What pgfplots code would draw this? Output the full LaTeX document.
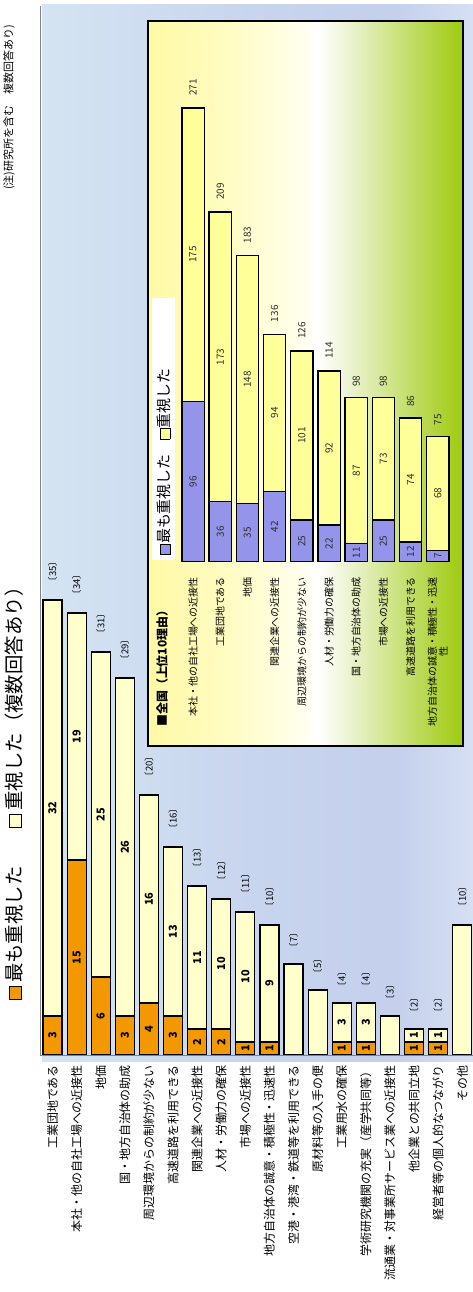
\documentclass[border=0pt]{standalone}
\usepackage{graphicx}
\usepackage{fontspec}
\setmainfont{Noto Sans CJK JP}
\usepackage{pgfplots}
\pgfplotsset{compat=1.18}
\usepackage{pgfplotstable}

\definecolor{orng}{RGB}{243,152,0}
\definecolor{pyel}{RGB}{255,255,204}
\definecolor{purp}{RGB}{148,148,234}
\definecolor{iyel}{RGB}{255,255,153}
\definecolor{axgray}{RGB}{130,130,130}
\definecolor{numgray}{RGB}{45,45,45}
\definecolor{pA}{RGB}{212,228,242}
\definecolor{pB}{RGB}{200,213,238}
\definecolor{pC}{RGB}{196,208,236}
\definecolor{pD}{RGB}{214,223,244}
\definecolor{iA}{RGB}{255,249,165}
\definecolor{iB}{RGB}{255,252,195}
\definecolor{iC}{RGB}{255,255,235}
\definecolor{iE}{RGB}{238,245,215}
\definecolor{iF}{RGB}{208,229,138}
\definecolor{iG}{RGB}{158,202,14}

\pgfdeclarehorizontalshading{panelshade}{100bp}{color(0bp)=(pA); color(25bp)=(pA); color(49bp)=(pB); color(66bp)=(pC); color(75bp)=(pD); color(100bp)=(pD)}
\pgfdeclarehorizontalshading{insetshade}{100bp}{color(0bp)=(iA); color(25bp)=(iA); color(38bp)=(iB); color(49bp)=(iC); color(52bp)=(white); color(56.3bp)=(iE); color(63.4bp)=(iF); color(75bp)=(iG); color(100bp)=(iG)}

\newcommand{\sq}[1]{{\setlength\fboxsep{0pt}\setlength\fboxrule{0.8pt}\fcolorbox{black}{#1}{\rule{0pt}{0.62em}\rule{0.62em}{0pt}}}}

\pgfplotstableread{
x a b
0 3 32
1 15 19
2 6 25
3 3 26
4 4 16
5 3 13
6 2 11
7 2 10
8 1 10
9 1 9
10 0 7
11 0 5
12 1 3
13 1 3
14 0 3
15 1 1
16 1 1
17 0 10
}\maindata

\pgfplotstableread{
x y l
0 1.5 3
1 7.5 15
2 3 6
3 1.5 3
4 2 4
5 1.5 3
6 1 2
7 1 2
8 0.5 1
9 0.5 1
12 0.5 1
13 0.5 1
15 0.5 1
16 0.5 1
}\mainA

\pgfplotstableread{
x y l
0 19 32
1 24.5 19
2 18.5 25
3 16 26
4 12 16
5 9.5 13
6 7.5 11
7 7 10
8 6 10
9 5.5 9
12 2.5 3
13 2.5 3
15 1.5 1
16 1.5 1
}\mainB

\pgfplotstableread{
x y l
0 37.2 〔35〕
1 36.2 〔34〕
2 33.2 〔31〕
3 31.2 〔29〕
4 22.2 〔20〕
5 18.2 〔16〕
6 15.2 〔13〕
7 14.2 〔12〕
8 13.2 〔11〕
9 12.2 〔10〕
10 8.85 〔7〕
11 6.85 〔5〕
12 5.85 〔4〕
13 5.85 〔4〕
14 4.85 〔3〕
15 3.85 〔2〕
16 3.85 〔2〕
17 12.2 〔10〕
}\mainT

\pgfplotstableread{
x a b
0 96 175
1 36 173
2 35 148
3 42 94
4 25 101
5 22 92
6 11 87
7 25 73
8 12 74
9 7 68
}\insdata

\pgfplotstableread{
x y l
0 48 96
1 18 36
2 17.5 35
3 21 42
4 12.5 25
5 11 22
6 5.5 11
7 12.5 25
8 6 12
9 3.5 7
}\insA

\pgfplotstableread{
x y l
0 183.5 175
1 122.5 173
2 109 148
3 89 94
4 75.5 101
5 68 92
6 54.5 87
7 61.5 73
8 49 74
9 41 68
}\insB

\pgfplotstableread{
x y l
0 283.2 271
1 221.2 209
2 195.2 183
3 148.2 136
4 138.2 126
5 126.2 114
6 108 98
7 108 98
8 96 86
9 85 75
}\insT

\begin{document}
\begin{tikzpicture}[x=1bp,y=1bp]
\path[use as bounding box, fill=white] (0,0) rectangle (473,1292);
% main panel
\shade[shading=panelshade] (42,230) rectangle (473,1287);
% inset panel
\shade[shading=insetshade] (148,546) rectangle (463,1271);
\draw[black, line width=1.3bp] (148,546) rectangle (463,1271);

% note and legend of main chart
\node[rotate=90, anchor=west, inner sep=0pt, font=\fontsize{11}{11}\selectfont] at (9,1102) {(注)研究所を含む　複数回答あり)};
\node[rotate=90, anchor=west, inner sep=0pt, font=\fontsize{19.5}{19.5}\selectfont] at (14,292) {\sq{orng}\,最も重視した　　\sq{pyel}\,重視した（複数回答あり）};

% main bars
\begin{axis}[
  at={(40.45bp,237bp)}, anchor=south west, scale only axis,
  width=432.6bp, height=1049bp,
  xmin=-0.5, xmax=17.45, ymin=0, ymax=80.7,
  axis x line*=bottom, axis y line*=left,
  axis line style={draw=axgray, line width=0.8bp},
  ytick=\empty, xtick={0,...,17}, xtick style={draw=none},
  xticklabels={工業団地である,本社・他の自社工場への近接性,地価,国・地方自治体の助成,周辺環境からの制約が少ない,高速道路を利用できる,関連企業への近接性,人材・労働力の確保,市場への近接性,地方自治体の誠意・積極性・迅速性,空港・港湾・鉄道等を利用できる,原材料等の入手の便,工業用水の確保,学術研究機関の充実（産学共同等）,流通業・対事業所サービス業への近接性,他企業との共同立地,経営者等の個人的なつながり,その他},
  xticklabel style={rotate=90, anchor=east, inner sep=0pt, font=\fontsize{12}{12}\selectfont},
  xticklabel shift=10bp,
  ybar stacked, bar width=19bp,
]
\addplot[fill=orng, draw=black, line width=1.2bp] table[x=x,y=a]{\maindata};
\addplot[fill=pyel, draw=black, line width=1.2bp] table[x=x,y=b]{\maindata};
\end{axis}

% main labels
\begin{axis}[
  at={(40.45bp,237bp)}, anchor=south west, scale only axis,
  width=432.6bp, height=1049bp,
  xmin=-0.5, xmax=17.45, ymin=0, ymax=80.7, hide axis,
  nodes near coords, point meta=explicit symbolic,
  nodes near coords align=center,
  every node near coord/.append style={rotate=90, inner sep=0pt, anchor=center},
]
\addplot[draw=none, mark=none, every node near coord/.append style={font=\bfseries\fontsize{11}{11}\selectfont}] table[x=x,y=y,meta=l]{\mainA};
\addplot[draw=none, mark=none, every node near coord/.append style={font=\bfseries\fontsize{11}{11}\selectfont}] table[x=x,y=y,meta=l]{\mainB};
\addplot[draw=none, mark=none, every node near coord/.append style={font=\fontsize{9.5}{10}\selectfont}] table[x=x,y=y,meta=l]{\mainT};
\end{axis}

% inset bars
\begin{axis}[
  at={(179.4bp,730bp)}, anchor=south west, scale only axis,
  width=272bp, height=502.5bp,
  xmin=-0.5, xmax=9.5, ymin=0, ymax=300,
  axis lines*=left, axis line style={draw=none},
  ytick=\empty, xtick={0,...,9}, xtick style={draw=none},
  xticklabels={本社・他の自社工場への近接性,工業団地である,地価,関連企業への近接性,周辺環境からの制約が少ない,人材・労働力の確保,国・地方自治体の助成,市場への近接性,高速道路を利用できる,{地方自治体の誠意・積極性・迅速\\性}},
  xticklabel style={rotate=90, anchor=east, align=center, inner sep=0pt, font=\fontsize{10}{11}\selectfont},
  xticklabel shift=15bp,
  ybar stacked, bar width=22.3bp,
]
\addplot[fill=purp, draw=black, line width=1.3bp] table[x=x,y=a]{\insdata};
\addplot[fill=iyel, draw=black, line width=1.3bp] table[x=x,y=b]{\insdata};
\end{axis}

% inset labels
\begin{axis}[
  at={(179.4bp,730bp)}, anchor=south west, scale only axis,
  width=272bp, height=502.5bp,
  xmin=-0.5, xmax=9.5, ymin=0, ymax=300, hide axis,
  nodes near coords, point meta=explicit symbolic,
  nodes near coords align=center,
  every node near coord/.append style={rotate=90, inner sep=0pt, anchor=center, text=numgray, font=\fontsize{10}{10}\selectfont},
]
\addplot[draw=none, mark=none] table[x=x,y=y,meta=l]{\insA};
\addplot[draw=none, mark=none] table[x=x,y=y,meta=l]{\insB};
\addplot[draw=none, mark=none] table[x=x,y=y,meta=l]{\insT};
\end{axis}

% inset legends
\fill[white] (152,732) rectangle (175,994);
\node[rotate=90, anchor=west, inner sep=0pt, font=\fontsize{15}{15}\selectfont] at (164,737) {\sq{purp}最も重視した　\sq{iyel}重視した};
\node[rotate=90, anchor=west, inner sep=0pt, font=\bfseries\fontsize{12}{12}\selectfont] at (162,565) {■全国（上位10理由）};
\end{tikzpicture}
\end{document}
